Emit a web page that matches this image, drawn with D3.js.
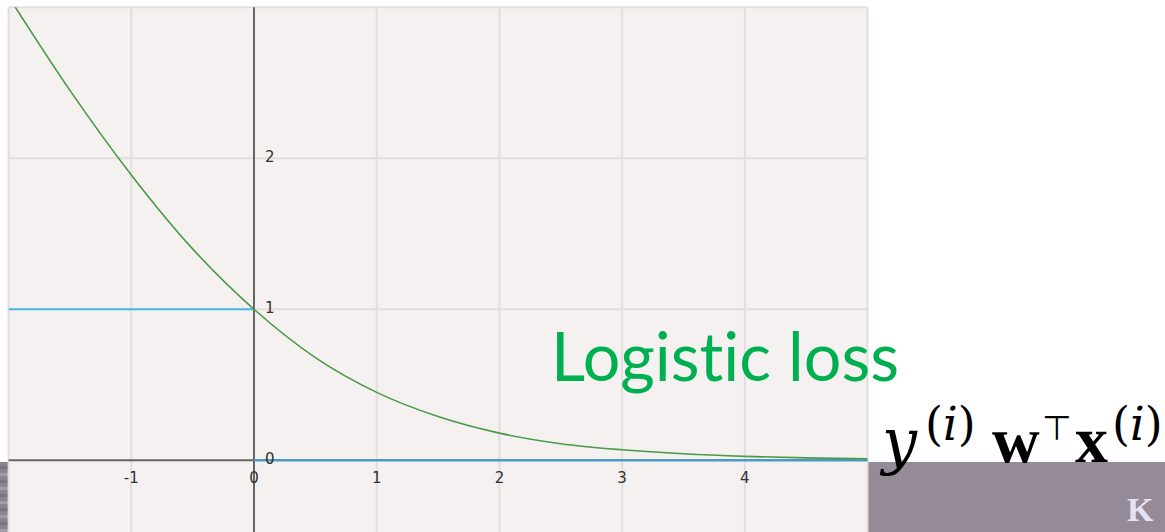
<!DOCTYPE html>
<html>
<head>
<meta charset="utf-8">
<script src="https://cdn.jsdelivr.net/npm/d3@7"></script>
<style>
  html, body { margin: 0; padding: 0; background: #ffffff; }
  svg { display: block; }
  text { font-variant-ligatures: none; font-feature-settings: "liga" 0, "clig" 0; }
</style>
</head>
<body>
<svg id="chart" width="1165" height="532"></svg>
<script>
// Margin z = y·wᵀx and the logistic loss (log base 2) read at half-unit steps
const marginValues = [-2, -1.5, -1, -0.5, 0, 0.5, 1, 1.5, 2, 2.5, 3, 3.5, 4, 4.5, 5];
const logisticLoss = [3.07, 2.45, 1.89, 1.40, 1.0, 0.68, 0.45, 0.29, 0.18, 0.11, 0.07, 0.043, 0.026, 0.016, 0.01];

// 0-1 loss: two flat pieces
const zeroOneSegments = [
  { from: -2, to: 0, loss: 1 },
  { from: 0, to: 5, loss: 0 }
];

const xTicks = [-1, 0, 1, 2, 3, 4];
const yTicks = [0, 1, 2];
const xGrid = [-2, -1, 1, 2, 3, 4, 5];
const yGrid = [1, 2, 3];

const svg = d3.select("#chart");

const x = d3.scaleLinear().domain([-2, 5]).range([8.6, 867.5]);
const y = d3.scaleLinear().domain([0, 3]).range([460.3, 7.3]);

const plotLeft = x(-2), plotRight = x(5), plotTop = y(3), plotBottom = 532;

// decorative strips under the plot
svg.append("rect").attr("x", 868).attr("y", 462).attr("width", 297).attr("height", 70).attr("fill", "#958a97");
const strip = svg.append("g");
strip.append("rect").attr("x", 0).attr("y", 462).attr("width", 10).attr("height", 70).attr("fill", "#8c838f");
d3.range(466, 532, 7).forEach((yy, i) => {
  strip.append("rect").attr("x", 0).attr("y", yy).attr("width", 10).attr("height", 3)
    .attr("fill", i % 2 ? "#a49ba6" : "#7b727e");
});

// plot panel
svg.append("rect")
  .attr("x", plotLeft).attr("y", plotTop)
  .attr("width", plotRight - plotLeft).attr("height", plotBottom - plotTop)
  .attr("fill", "#f4f1f0");

svg.append("defs").append("clipPath").attr("id", "plotClip")
  .append("rect").attr("x", plotLeft).attr("y", plotTop)
  .attr("width", plotRight - plotLeft).attr("height", plotBottom - plotTop);

const grid = svg.append("g").attr("stroke", "#e2dedd").attr("stroke-width", 2);
grid.selectAll("line.vx").data(xGrid).join("line")
  .attr("x1", d => x(d)).attr("x2", d => x(d))
  .attr("y1", plotTop).attr("y2", plotBottom);
grid.selectAll("line.hy").data(yGrid).join("line")
  .attr("x1", plotLeft).attr("x2", plotRight)
  .attr("y1", d => y(d)).attr("y2", d => y(d));

// axes through the origin
const axisColor = "#656565";
svg.append("line").attr("x1", plotLeft).attr("x2", plotRight)
  .attr("y1", y(0)).attr("y2", y(0)).attr("stroke", axisColor).attr("stroke-width", 2);
svg.append("line").attr("x1", x(0)).attr("x2", x(0))
  .attr("y1", plotTop).attr("y2", plotBottom).attr("stroke", axisColor).attr("stroke-width", 2);

const plot = svg.append("g").attr("clip-path", "url(#plotClip)");

// 0-1 loss
plot.selectAll("line.zo").data(zeroOneSegments).join("line")
  .attr("x1", d => x(d.from)).attr("x2", d => x(d.to))
  .attr("y1", d => y(d.loss)).attr("y2", d => y(d.loss))
  .attr("stroke", (d, i) => i === 0 ? "#48b8e6" : "#3b9fd3")
  .attr("stroke-width", 2);

// logistic loss curve
const line = d3.line()
  .x((d, i) => x(marginValues[i]))
  .y(d => y(d))
  .curve(d3.curveMonotoneX);
plot.append("path").datum(logisticLoss)
  .attr("d", line)
  .attr("fill", "none")
  .attr("stroke", "#4a9a46")
  .attr("stroke-width", 1.6);

// tick labels
const labelFont = "DejaVu Sans, sans-serif";
svg.append("g").selectAll("text").data(xTicks).join("text")
  .attr("x", d => x(d)).attr("y", 482.5)
  .attr("text-anchor", "middle")
  .attr("font-family", labelFont).attr("font-size", 15).attr("fill", "#303030")
  .text(d => d);
svg.append("g").selectAll("text").data(yTicks).join("text")
  .attr("x", x(0) + 11).attr("y", d => y(d) + 3.5)
  .attr("font-family", labelFont).attr("font-size", 15).attr("fill", "#303030")
  .text(d => d);

// curve label
svg.append("text")
  .attr("x", 551).attr("y", 381)
  .attr("font-family", "Lato, 'Open Sans', sans-serif")
  .attr("font-size", 68)
  .attr("fill", "#00b050")
  .attr("textLength", 348).attr("lengthAdjust", "spacingAndGlyphs")
  .text("Logistic loss");

// axis title: y^(i) wᵀ x^(i)
const serif = "'DejaVu Serif', serif";
const boldSerif = "'Liberation Serif', 'DejaVu Serif', serif";
const math = svg.append("g").attr("fill", "#000");
function superscriptI(g, xPos) {
  const t = g.append("text").attr("x", xPos).attr("y", 440)
    .attr("font-family", serif).attr("font-size", 46);
  t.append("tspan").text("(");
  t.append("tspan").attr("font-style", "italic").text("i");
  t.append("tspan").text(")");
}
math.append("text").attr("x", 882).attr("y", 462).attr("font-family", serif)
  .attr("font-style", "italic").attr("font-size", 62).text("y");
superscriptI(math, 925);
math.append("text").attr("x", 992).attr("y", 462).attr("font-family", boldSerif)
  .attr("font-weight", "bold").attr("font-size", 66).text("w");
math.append("text").attr("x", 1042).attr("y", 440).attr("font-family", "DejaVu Sans, sans-serif")
  .attr("font-size", 34).text("\u22A4");
math.append("text").attr("x", 1075).attr("y", 462).attr("font-family", boldSerif)
  .attr("font-weight", "bold").attr("font-size", 66).text("x");
superscriptI(math, 1112);

// caption letter on the band
svg.append("text").attr("x", 1127).attr("y", 521)
  .attr("font-family", boldSerif).attr("font-weight", "bold").attr("font-size", 34)
  .attr("fill", "#e6e2f4").text("K");
</script>
</body>
</html>
